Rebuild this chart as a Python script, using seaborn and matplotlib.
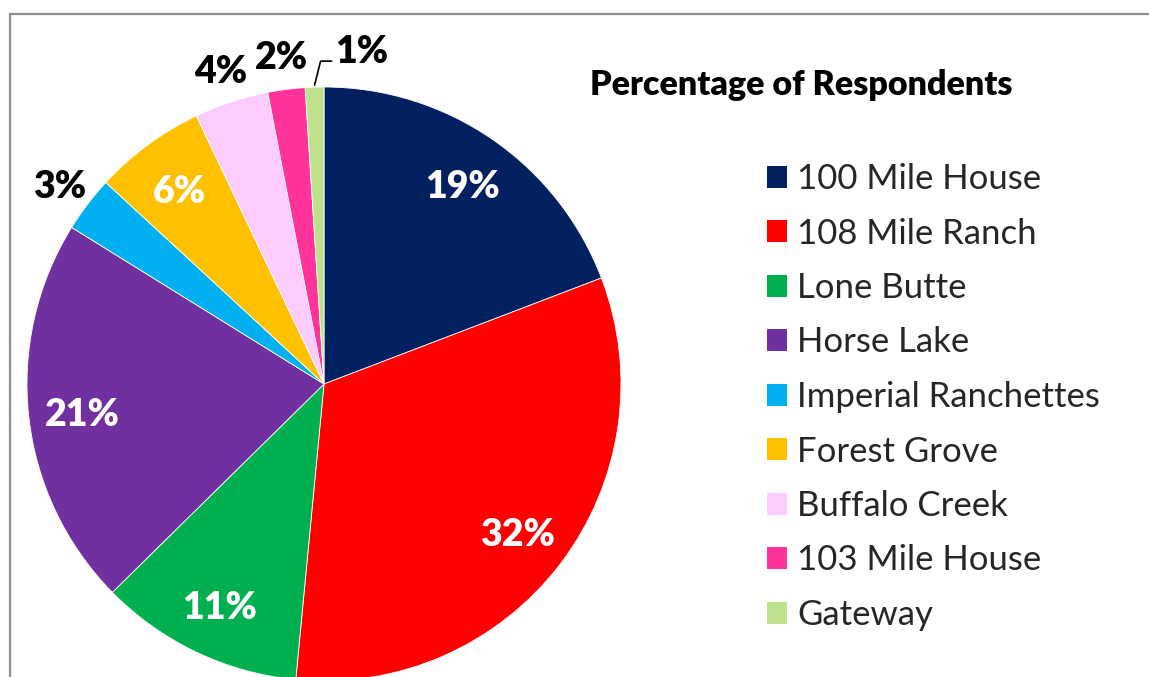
import numpy as np
import matplotlib
matplotlib.use("Agg")
import matplotlib.pyplot as plt
import seaborn as sns
from matplotlib.patches import Rectangle, Patch

# ── Data ─────────────────────────────────────────────────────────────────────
places = ["100 Mile House", "108 Mile Ranch", "Lone Butte", "Horse Lake",
          "Imperial Ranchettes", "Forest Grove", "Buffalo Creek",
          "103 Mile House", "Gateway"]
shares = [19, 32, 11, 21, 3, 6, 4, 2, 1]
colors = ["#002060", "#FF0000", "#00B050", "#7030A0", "#00B0F0",
          "#FFC000", "#FFCCFF", "#FF3399", "#BCE38C"]
inside = [True, True, True, True, False, True, False, False, False]

sns.set_theme(style="white")
plt.rcParams["font.family"] = ["Lato", "DejaVu Sans"]

W, H = 1149, 677
fig = plt.figure(figsize=(W / 100, H / 100), dpi=100)
ax = fig.add_axes([0, 0, 1, 1])

cx, cy, r = 324, H - 384, 297
wedges, _ = ax.pie(shares, colors=colors, startangle=90, counterclock=False,
                   center=(cx, cy), radius=r, frame=True,
                   wedgeprops=dict(linewidth=0.6, edgecolor="white"))
ax.set_xlim(0, W)
ax.set_ylim(0, H)
ax.set_aspect("equal")
ax.set_axis_off()

# frame border
ax.add_patch(Rectangle((10, -10), W, H - 4, fill=False, edgecolor="#8c8c8c",
                       linewidth=1.6, zorder=5))

# percentage labels
for w, v, inn in zip(wedges, shares, inside):
    mid = np.deg2rad((w.theta1 + w.theta2) / 2)
    if v == 1:
        ex, ey = cx + r * np.cos(mid), cy + r * np.sin(mid)
        ax.plot([ex, ex + 6, ex + 17], [ey + 2, ey + 26, ey + 26],
                color="black", lw=1.2)
        ax.text(ex + 21, ey + 35, f"{v}%", ha="left", va="center",
                fontsize=27, fontweight="heavy", color="black")
        continue
    d = 0.82 * r if inn else 1.12 * r
    ax.text(cx + d * np.cos(mid), cy + d * np.sin(mid) - 4, f"{v}%",
            ha="center", va="center", fontsize=27, fontweight="heavy",
            color="white" if inn else "black")

# title and legend
fig.text(590 / W, 1 - 85 / H, "Percentage of Respondents", ha="left",
         va="center", fontsize=24.5, fontweight="heavy", color="black")
handles = [Patch(facecolor=c, edgecolor="none") for c in colors]
fig.legend(handles, places, loc="upper left",
           bbox_to_anchor=(767 / W, 1 - 163 / H), frameon=False,
           fontsize=25, handlelength=0.58, handleheight=0.58,
           handletextpad=0.29, labelspacing=0.648, borderaxespad=0,
           borderpad=0)

fig.savefig("out.png", dpi=100)
